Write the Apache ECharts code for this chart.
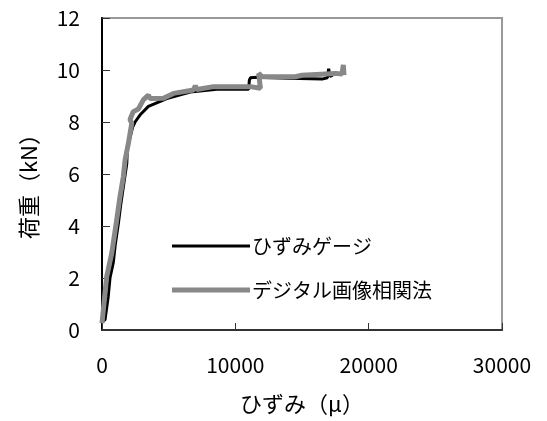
<!DOCTYPE html>
<html><head><meta charset="utf-8">
<script src="https://cdn.jsdelivr.net/npm/echarts@6/dist/echarts.min.js"></script>
<style>html,body{margin:0;padding:0;background:#fff}#c{width:547px;height:421px}</style>
</head><body><div id="c"></div>
<script>
const xTicks = [0, 10000, 20000, 30000];
const yTicks = [0, 2, 4, 6, 8, 10, 12];
const seriesNames = ['ひずみゲージ', 'デジタル画像相関法'];
const gaugeStrain = [0, 230, 470, 600, 850, 1000, 1230, 1400, 1600, 1860, 1900, 2100, 2300, 2480, 2900, 3480, 4860, 6620, 8620, 11000, 11050, 11130, 11600, 14000, 16500, 16900, 17000, 17100, 17300];
const gaugeLoad   = [0.3, 0.4, 1.3, 2.0, 2.6, 3.3, 4.1, 4.8, 5.5, 6.4, 7.0, 7.4, 7.8, 8.0, 8.3, 8.6, 8.9, 9.15, 9.26, 9.26, 9.6, 9.7, 9.72, 9.68, 9.65, 9.7, 10.05, 9.75, 9.8];
const dicStrain = [0, 100, 350, 730, 1100, 1350, 1600, 1730, 1980, 2230, 2100, 2350, 2730, 3100, 3480, 3600, 4610, 5360, 6860, 7000, 7100, 8370, 11130, 11880, 11750, 12000, 14500, 15000, 17500, 18000, 18100, 18150];
const dicLoad   = [0.26, 0.77, 2.05, 2.95, 4.23, 5.13, 5.9, 6.54, 7.18, 7.95, 8.1, 8.4, 8.5, 8.85, 9.04, 8.9, 8.91, 9.1, 9.23, 9.4, 9.25, 9.36, 9.36, 9.3, 9.87, 9.74, 9.74, 9.8, 9.87, 9.85, 10.2, 9.8];
const xName = 'ひずみ（μ）';
const yName = '荷重（kN）';

const zip = (a, b) => a.map((v, i) => [v, b[i]]);
const FONT = '"Noto Sans CJK JP", "Noto Sans", sans-serif';
const chart = echarts.init(document.getElementById('c'), null, {renderer: 'canvas'});
chart.setOption({
  animation: false,
  backgroundColor: '#fff',
  grid: {left: 102, top: 18, width: 400, height: 312, show: true, borderColor: '#999', borderWidth: 2, backgroundColor: 'transparent'},
  xAxis: {
    type: 'value', min: xTicks[0], max: xTicks[xTicks.length - 1], interval: 10000,
    splitLine: {show: false},
    axisLine: {show: true, onZero: false, lineStyle: {color: '#333', width: 2}},
    axisTick: {show: true, inside: true, length: 7, lineStyle: {color: '#333', width: 1}},
    axisLabel: {margin: 25, fontSize: 21, color: '#000', fontFamily: FONT, formatter: v => String(v)},
    name: xName, nameLocation: 'middle', nameGap: 63,
    nameTextStyle: {fontSize: 22, color: '#000', fontFamily: FONT}
  },
  yAxis: {
    type: 'value', min: yTicks[0], max: yTicks[yTicks.length - 1], interval: 2,
    splitLine: {show: false},
    axisLine: {show: true, onZero: false, lineStyle: {color: '#000', width: 2}},
    axisTick: {show: true, inside: true, length: 8, lineStyle: {color: '#333', width: 1}},
    axisLabel: {margin: 22, fontSize: 21, color: '#000', fontFamily: FONT, formatter: v => String(v)},
    name: yName, nameLocation: 'middle', nameGap: 62,
    nameTextStyle: {fontSize: 22, color: '#000', fontFamily: FONT, padding: [0, 14, 0, 0]}
  },
  legend: [
    {data: [seriesNames[0]], orient: 'vertical', left: 167, top: 231, icon: 'rect', itemWidth: 78, itemHeight: 3,
     textStyle: {fontSize: 20, color: '#000', fontFamily: FONT, padding: [0,0,0,-3]}},
    {data: [seriesNames[1]], orient: 'vertical', left: 167, top: 275, icon: 'rect', itemWidth: 78, itemHeight: 5,
     textStyle: {fontSize: 20, color: '#000', fontFamily: FONT, padding: [0,0,0,-3]}}
  ],
  series: [
    {name: seriesNames[0], type: 'line', data: zip(gaugeStrain, gaugeLoad), showSymbol: false, symbol: 'none',
     lineStyle: {color: '#000', width: 3}, itemStyle: {color: '#000'}, z: 2},
    {name: seriesNames[1], type: 'line', data: zip(dicStrain, dicLoad), showSymbol: false, symbol: 'none',
     lineStyle: {color: '#888', width: 5}, itemStyle: {color: '#888'}, z: 3}
  ]
});
</script></body></html>
